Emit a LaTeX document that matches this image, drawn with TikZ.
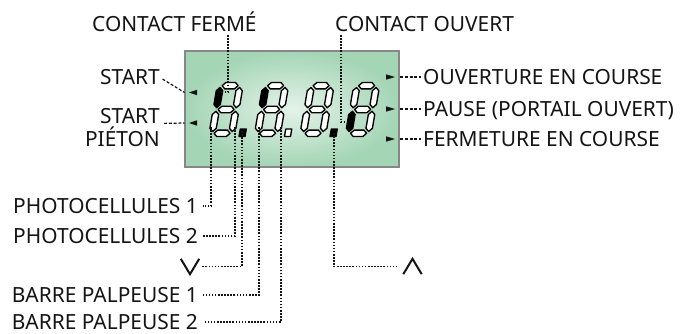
\documentclass[tikz,border=0pt]{standalone}
\usepackage{fontspec}
\setmainfont{Noto Sans}
\definecolor{txt}{RGB}{20,20,20}
\definecolor{lcdin}{RGB}{228,243,233}
\definecolor{lcdout}{RGB}{164,213,181}
\definecolor{lcdrim}{RGB}{135,135,135}
\newcommand\lcdh[4]{\path[#4] (#1,#3) -- ({#1+3.2},{#3-3.2}) -- ({#2-3.2},{#3-3.2}) -- (#2,#3) -- ({#2-3.2},{#3+3.2}) -- ({#1+3.2},{#3+3.2}) -- cycle;}
\newcommand\lcdv[4]{\path[#4] (#3,#1) -- ({#3+3.2},{#1+3.2}) -- ({#3+3.2},{#2-3.2}) -- (#3,#2) -- ({#3-3.2},{#2-3.2}) -- ({#3-3.2},{#1+3.2}) -- cycle;}
\newcommand\lcddigit[2]{%
 \begin{scope}[shift={#1}, xslant=0.17, #2]
  \lcdh{5.0}{21.0}{-50.8}{sega}
  \lcdh{5.0}{21.0}{-27}{segg}
  \lcdh{5.0}{21.0}{-3.2}{segd}
  \lcdv{-49.0}{-28.8}{3.2}{segf}
  \lcdv{-49.0}{-28.8}{22.8}{segb}
  \lcdv{-25.2}{-5.0}{3.2}{sege}
  \lcdv{-25.2}{-5.0}{22.8}{segc}
  \path[segp] (30.5,-7.5) rectangle (36.5,0);
 \end{scope}}
\begin{document}
\begin{tikzpicture}[x=1pt,y=-1pt,
  lbl/.style={font=\fontsize{20.9}{24}\selectfont, text=txt, inner sep=0pt, text height=14.9pt, text depth=0pt},
  dotline/.style={line width=1.6pt, dash pattern=on 1.6pt off 1.5pt, draw=txt},
  dashline/.style={line width=1.2pt, dash pattern=on 3pt off 1.8pt, draw=txt},
  seg/.style={fill=white, draw=black, line width=1.35pt, line join=round},
  segon/.style={fill=black, draw=black, line width=1.35pt, line join=round},
  segnone/.style={},
  sega/.style={seg}, segb/.style={seg}, segc/.style={seg}, segd/.style={seg},
  sege/.style={seg}, segf/.style={seg}, segg/.style={seg}, segp/.style={seg},
  chev/.style={line width=2pt, draw=txt},
  tri/.style={fill=txt}
]
\useasboundingbox (0,0) rectangle (680,333);

% LCD panel
\node[draw=lcdrim, line width=2.2pt, inner sep=0pt, minimum width=214pt, minimum height=116pt,
      shading=radial, inner color=lcdin, outer color=lcdout] (lcd) at (292,109) {};

% digits
\lcddigit{(208.5,136.5)}{segf/.style={segon}, segp/.style={segon}}
\lcddigit{(254,136.5)}{segf/.style={segon}}
\lcddigit{(299.5,136.5)}{segp/.style={segon}}
\lcddigit{(345,136.5)}{sege/.style={segon}, segp/.style={segnone}}

% arrows inside panel
\fill[tri] (189,92.5) -- (197,89.8) -- (197,95.2) -- cycle;
\fill[tri] (189,123) -- (197,120.3) -- (197,125.7) -- cycle;
\fill[tri] (395,77) -- (386,74.3) -- (386,79.7) -- cycle;
\fill[tri] (395,109) -- (386,106.3) -- (386,111.7) -- cycle;
\fill[tri] (395,139) -- (386,136.3) -- (386,141.7) -- cycle;

% labels
\node[lbl, anchor=west] (cf) at (92,24.3) {CONTACT FERMÉ};
\node[lbl, anchor=west] (co) at (335,24.3) {CONTACT OUVERT};
\node[lbl, anchor=east] (st1) at (160,77.5) {START};
\node[lbl, anchor=east] (st2) at (160,115.8) {START};
\node[lbl, anchor=east] (pie) at (160,139.2) {PIÉTON};
\node[lbl, anchor=west] (ouv) at (423,77) {OUVERTURE EN COURSE};
\node[lbl, anchor=west] (pau) at (423,109) {PAUSE (PORTAIL OUVERT)};
\node[lbl, anchor=west] (fer) at (423,139) {FERMETURE EN COURSE};
\node[lbl, anchor=east] (ph1) at (198,206) {PHOTOCELLULES 1};
\node[lbl, anchor=east] (ph2) at (198,236) {PHOTOCELLULES 2};
\node[lbl, anchor=east] (bp1) at (198,295.2) {BARRE PALPEUSE 1};
\node[lbl, anchor=east] (bp2) at (198,321.8) {BARRE PALPEUSE 2};
\node[inner sep=0pt, minimum width=18pt, minimum height=15pt] (vee) at (190,266.5) {};
\node[inner sep=0pt, minimum width=18pt, minimum height=15pt] (wedge) at (412.5,266.5) {};
\draw[chev, line join=miter] (vee.north west) -- (vee.south) -- (vee.north east);
\draw[chev, line join=miter] (wedge.south west) -- (wedge.north) -- (wedge.south east);

% connector end coordinates
\coordinate (fA) at (228,92);
\coordinate (fB) at (220,92);
\coordinate (oA) at (341,122);
\coordinate (oB) at (347,122);
\coordinate (sA) at (184.5,92.5);
\coordinate (sB) at (184.5,123);
\coordinate (rA) at (400,77);
\coordinate (rB) at (400,109);
\coordinate (rC) at (400,139);
\coordinate (p1) at (211,127);
\coordinate (p2) at (235,127);
\coordinate (pv) at (242,131);
\coordinate (pb1) at (259,127);
\coordinate (pb2) at (281,127);
\coordinate (pw) at (334,133);

% top connectors
\draw[dotline, shorten <=3pt] (cf.south -| fA) -- (fA) -- (fB);
\draw[dotline, shorten <=3pt] (co.south -| oA) -- (oA) -- (oB);

% left connectors
\draw[dashline, shorten <=3pt] (st1.east) -- (sA);
\draw[dashline, shorten <=4pt] (st2.south east) -- (sB);

% right connectors
\draw[dashline, shorten >=2pt] (rA) -- (ouv.west);
\draw[dashline, shorten >=2pt] (rB) -- (pau.west);
\draw[dashline, shorten >=2pt] (rC) -- (fer.west);

% bottom connectors
\draw[dotline, shorten >=5pt] (p1) |- (ph1.east);
\draw[dotline, shorten >=5pt] (p2) |- (ph2.east);
\draw[dotline, shorten >=3pt] (pv) |- (vee.east);
\draw[dotline, shorten >=5pt] (pb1) |- (bp1.east);
\draw[dotline, shorten >=5pt] (pb2) |- (bp2.east);
\draw[dotline, shorten >=5pt] (pw) |- (wedge.west);
\end{tikzpicture}
\end{document}
